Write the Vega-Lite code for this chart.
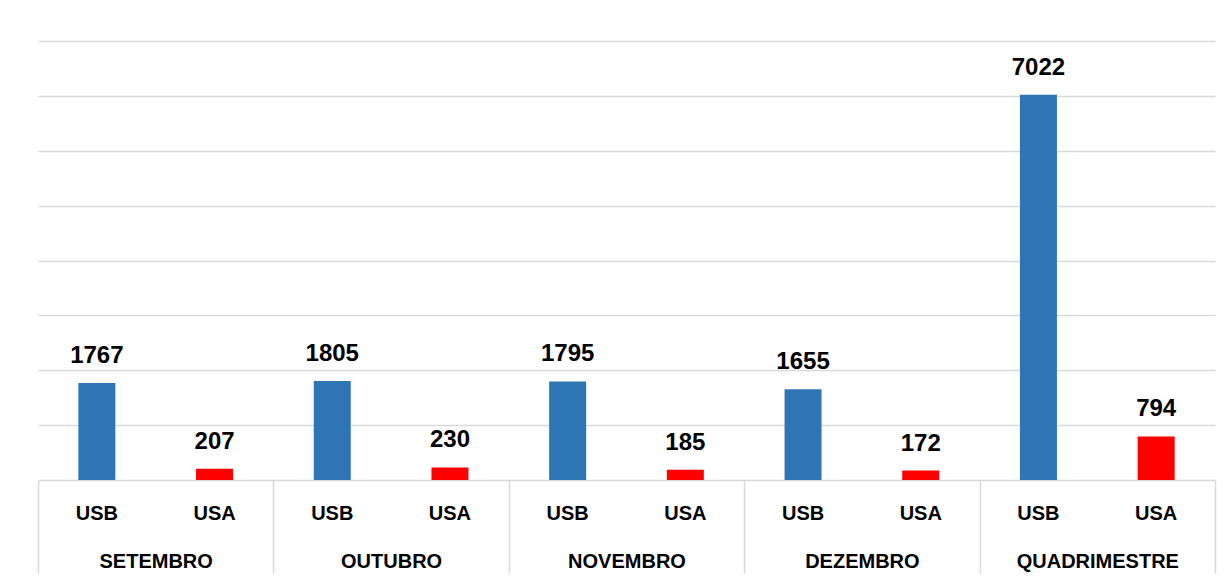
{
  "$schema": "https://vega.github.io/schema/vega-lite/v6.json",
  "width": 1177,
  "height": 439,
  "autosize": {"type": "none"},
  "padding": {"left": 38, "top": 41, "right": 16, "bottom": 100},
  "background": "white",
  "config": {"view": {"stroke": null}, "font": "Liberation Sans"},
  "data": {
    "values": [
      {"month": "SETEMBRO", "series": "USB", "key": "SETEMBRO|USB", "value": 1767},
      {"month": "SETEMBRO", "series": "USA", "key": "SETEMBRO|USA", "value": 207},
      {"month": "OUTUBRO", "series": "USB", "key": "OUTUBRO|USB", "value": 1805},
      {"month": "OUTUBRO", "series": "USA", "key": "OUTUBRO|USA", "value": 230},
      {"month": "NOVEMBRO", "series": "USB", "key": "NOVEMBRO|USB", "value": 1795},
      {"month": "NOVEMBRO", "series": "USA", "key": "NOVEMBRO|USA", "value": 185},
      {"month": "DEZEMBRO", "series": "USB", "key": "DEZEMBRO|USB", "value": 1655},
      {"month": "DEZEMBRO", "series": "USA", "key": "DEZEMBRO|USA", "value": 172},
      {"month": "QUADRIMESTRE", "series": "USB", "key": "QUADRIMESTRE|USB", "value": 7022},
      {"month": "QUADRIMESTRE", "series": "USA", "key": "QUADRIMESTRE|USA", "value": 794}
    ]
  },
  "layer": [
    {
      "layer": [
        {
          "mark": {"type": "bar", "width": 37},
          "encoding": {
            "x": {
              "field": "key", "type": "nominal", "sort": null,
              "scale": {"paddingInner": 0, "paddingOuter": 0},
              "axis": {
                "orient": "bottom", "title": null, "domain": false, "grid": false, "ticks": false,
                "labelExpr": "split(datum.value, '|')[1]",
                "labelFont": "Liberation Sans", "labelFontSize": 20, "labelFontWeight": "bold",
                "labelColor": "#000000", "labelAngle": 0, "labelBaseline": "alphabetic",
                "labelPadding": 39, "labelOverlap": false
              }
            },
            "y": {
              "field": "value", "type": "quantitative",
              "scale": {"domain": [0, 8000]},
              "axis": {
                "title": null, "labels": false, "ticks": false, "domain": false,
                "grid": true, "gridColor": "#d9d9d9", "gridWidth": 1.5,
                "values": [0, 1000, 2000, 3000, 4000, 5000, 6000, 7000, 8000]
              }
            },
            "color": {
              "field": "series", "type": "nominal",
              "scale": {"domain": ["USB", "USA"], "range": ["#2e75b6", "#ff0000"]},
              "legend": null
            }
          }
        },
        {
          "mark": {"type": "text", "dy": -20, "baseline": "alphabetic", "fontSize": 24, "fontWeight": "bold", "font": "Liberation Sans", "color": "#000000"},
          "encoding": {
            "x": {"field": "key", "type": "nominal", "sort": null},
            "y": {"field": "value", "type": "quantitative"},
            "text": {"field": "value", "type": "quantitative", "format": "d"}
          }
        }
      ]
    },
    {
      "mark": {"type": "point", "opacity": 0},
      "encoding": {
        "x": {
          "field": "month", "type": "nominal", "sort": null,
          "scale": {"paddingInner": 0, "paddingOuter": 0},
          "axis": {
            "orient": "bottom", "title": null, "domain": false, "grid": false,
            "ticks": true, "tickBand": "extent", "tickSize": 93, "tickColor": "#d9d9d9", "tickWidth": 1.5,
            "labelFont": "Liberation Sans", "labelFontSize": 20, "labelFontWeight": "bold",
            "labelColor": "#000000", "labelAngle": 0, "labelBaseline": "alphabetic",
            "labelPadding": -6, "labelOverlap": false
          }
        },
        "y": {"field": "value", "type": "quantitative"}
      }
    }
  ],
  "resolve": {"scale": {"x": "independent"}}
}
